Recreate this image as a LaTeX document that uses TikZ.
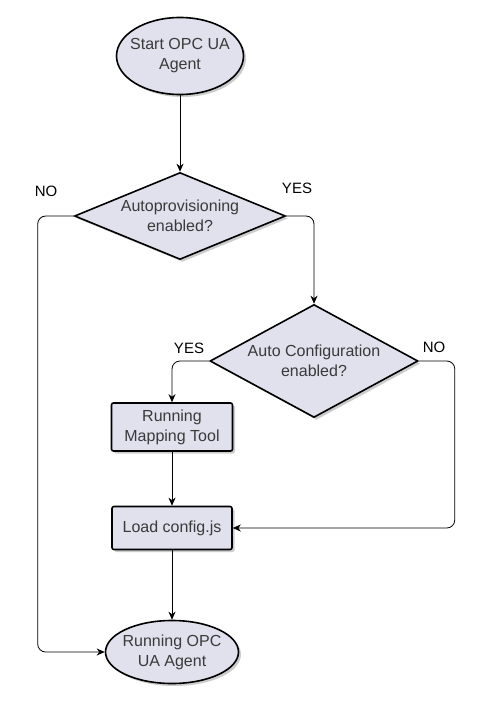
\documentclass[tikz,border=0pt]{standalone}
\usepackage{fontspec}
\setmainfont{Liberation Sans}
\usetikzlibrary{shapes.geometric,arrows.meta,shadows}
\definecolor{nodefill}{HTML}{E1E1EE}
\definecolor{nodetext}{HTML}{3A3A3A}
\tikzset{
  shapebase/.style={draw=black, line width=1.6pt, fill=nodefill, inner sep=0pt,
    drop shadow={shadow xshift=2.5pt, shadow yshift=-2.5pt, fill=black!25, opacity=0.8}},
  oval/.style={shapebase, ellipse},
  decision/.style={shapebase, diamond, aspect=2.4},
  procbox/.style={shapebase, rectangle, rounded corners=2pt},
  nodetxt/.style={text=nodetext, align=center, font=\fontsize{16}{20}\selectfont},
  lbl/.style={text=black, font=\fontsize{15}{17}\selectfont},
  conn/.style={draw=black, line width=0.8pt, rounded corners=8pt, -{Stealth[length=8pt,width=7pt,inset=2.5pt]}}
}
\begin{document}
\begin{tikzpicture}[x=1pt,y=-1pt]
\useasboundingbox (0,0) rectangle (489,709);
% shapes
\node[oval, minimum width=127pt, minimum height=77pt] (start) at (180,56) {};
\node[decision, minimum width=211pt, minimum height=87pt] (d1) at (180,216) {};
\node[decision, minimum width=208pt, minimum height=113pt] (d2) at (314,361) {};
\node[procbox, minimum width=121pt, minimum height=48pt] (box1) at (172,427) {};
\node[procbox, minimum width=120pt, minimum height=43pt] (box2) at (172,528) {};
\node[oval, minimum width=133pt, minimum height=63pt] (end) at (172,652) {};
% texts
\node[nodetxt] (tstart) at (start) {Start OPC UA\\Agent};
\node[nodetxt] (td1) at (d1) {Autoprovisioning\\enabled?};
\node[nodetxt] (td2) at (d2) {Auto Configuration\\enabled?};
\node[nodetxt] (tbox1) at (box1) {Running\\Mapping Tool};
\node[nodetxt] (tbox2) at (box2) {Load config.js};
\node[nodetxt] (tend) at (end) {Running OPC\\UA Agent};
% connectors
\draw[conn] (start.south) -- (d1.north);
\draw[conn] (d1.west) -- ++(-36,0) |- (end.west);
\draw[conn] (d1.east) -| (d2.north);
\draw[conn] (d2.west) -| (box1.north);
\draw[conn] (box1.south) -- (box2.north);
\draw[conn] (d2.east) -- ++(36,0) |- (box2.east);
\draw[conn] (box2.south) -- (end.north);
% labels
\node[lbl] (lno1) at (46,191) {NO};
\node[lbl] (lyes1) at (297,188) {YES};
\node[lbl] (lyes2) at (189,348) {YES};
\node[lbl] (lno2) at (434,347) {NO};
\end{tikzpicture}
\end{document}
